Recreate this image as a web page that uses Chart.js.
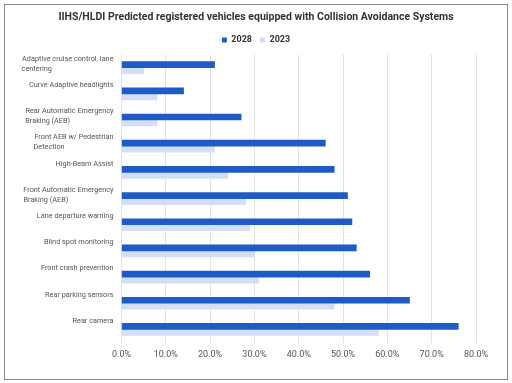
<!DOCTYPE html>
<html>
<head>
<meta charset="utf-8">
<script src="https://cdn.jsdelivr.net/npm/chart.js@4"></script>
<style>
  html, body { margin: 0; padding: 0; background: #fff; }
  #wrap { position: relative; width: 512px; height: 383px; }
  #frame { position: absolute; left: 4px; top: 4px; width: 502px; height: 374px; border: 1px solid #8a8a8a; pointer-events: none; }
  canvas { position: absolute; left: 0; top: 0; }
</style>
</head>
<body>
<div id="wrap">
  <canvas id="c" width="512" height="383"></canvas>
  <div id="frame"></div>
</div>
<script>
const chartTitle = "IIHS/HLDI Predicted registered vehicles equipped with Collision Avoidance Systems";
const categories = [
  ["Adaptive cruise control, lane", "centering"],
  ["Curve Adaptive headlights"],
  ["Rear Automatic Emergency", "Braking (AEB)"],
  ["Front AEB w/ Pedestrian", "Detection"],
  ["High-Beam Assist"],
  ["Front Automatic Emergency", "Braking (AEB)"],
  ["Lane departure warning"],
  ["Blind spot monitoring"],
  ["Front crash prevention"],
  ["Rear parking sensors"],
  ["Rear camera"]
];
const seriesNames = ["2028", "2023"];
const values2028 = [21, 14, 27, 46, 48, 51, 52, 53, 56, 65, 76];
const values2023 = [5, 8, 8, 21, 24, 28, 29, 30, 31, 48, 58];
const xTicks = [0, 10, 20, 30, 40, 50, 60, 70, 80];

const FONT = "Roboto";
const yFont = { family: FONT, size: 7.3, lineHeight: 1.33 };
const mctx = document.createElement("canvas").getContext("2d");
mctx.font = yFont.size + "px " + FONT;
function padBlock(lines) {
  // left-align lines within a right-aligned block; single lines get an empty 2nd line
  if (lines.length === 1) return [lines[0], ""];
  const w0 = Math.max(...lines.map(l => mctx.measureText(l).width));
  const sp = mctx.measureText(" ").width;
  return lines.map(l => {
    const n = Math.round((w0 - mctx.measureText(l).width) / sp);
    return l + " ".repeat(Math.max(0, n));
  });
}

new Chart(document.getElementById("c"), {
  type: "bar",
  data: {
    labels: categories,
    datasets: [
      { label: seriesNames[0], data: values2028, backgroundColor: "#1f5bc6", borderWidth: 0, barThickness: 6 },
      { label: seriesNames[1], data: values2023, backgroundColor: "#d2dff6", borderWidth: 0, barThickness: 6 }
    ]
  },
  options: {
    indexAxis: "y",
    responsive: false,
    animation: false,
    devicePixelRatio: 1,
    layout: { padding: 0 },
    plugins: {
      title: {
        display: true,
        text: chartTitle,
        color: "#333",
        font: { family: FONT, size: 10.5, weight: "bold" },
        padding: { top: 11, bottom: 4 }
      },
      legend: {
        display: true,
        position: "top",
        labels: {
          boxWidth: 5, boxHeight: 5, padding: 8,
          color: "#333",
          font: { family: FONT, size: 9, weight: "bold" }
        }
      },
      tooltip: { enabled: false }
    },
    scales: {
      x: {
        min: 0, max: 80,
        afterBuildTicks: (s) => { s.ticks = xTicks.map(v => ({ value: v })); },
        afterFit: (s) => { s.height = 40.5; s.paddingRight = 36; },
        grid: { color: "#e2e2e2", lineWidth: 1, drawTicks: false },
        border: { display: false },
        ticks: {
          padding: 7,
          color: "#555",
          font: { family: FONT, size: 9 },
          callback: (v) => Number(v).toFixed(1) + "%"
        }
      },
      y: {
        afterFit: (s) => { s.width = 121.5; },
        grid: { display: false, drawTicks: false },
        border: { display: false },
        ticks: {
          padding: 8,
          labelOffset: -3.7,
          color: "#555",
          font: yFont,
          autoSkip: false,
          callback: function (v, i) { return padBlock(categories[i]); }
        }
      }
    }
  }
});
</script>
</body>
</html>
